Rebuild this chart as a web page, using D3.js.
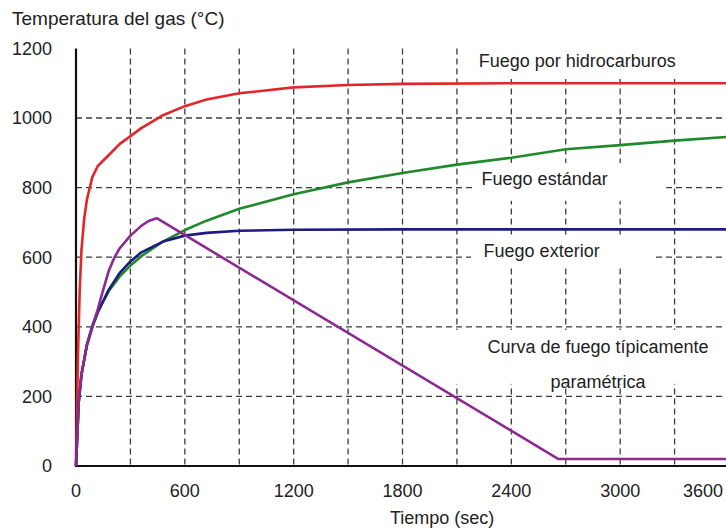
<!DOCTYPE html>
<html>
<head>
<meta charset="utf-8">
<script src="https://cdn.jsdelivr.net/npm/d3@7"></script>
<style>
  body { margin: 0; background: #fff; }
  svg text { font-family: "Liberation Sans", Arial, Helvetica, sans-serif; fill: #222; }
</style>
</head>
<body>
<svg id="chart" width="726" height="529"></svg>
<script>
// Time (s) and gas temperature (°C) for each fire curve
const timeHydro = [0, 10, 20, 30, 45, 60, 90, 120, 180, 240, 300, 360, 480, 600, 720, 900, 1200, 1500, 1800, 2400, 3000, 3600];
const tempHydro = [0, 300, 500, 620, 710, 765, 830, 862, 893, 925, 948, 971, 1008, 1034, 1053, 1071, 1088, 1095, 1098, 1100, 1100, 1100];

const timeStandard = [0, 15, 30, 60, 90, 120, 180, 240, 300, 360, 480, 600, 720, 900, 1200, 1500, 1800, 2100, 2400, 2700, 3000, 3300, 3600];
const tempStandard = [0, 185, 261, 349, 404, 445, 502, 544, 576, 603, 645, 678, 705, 739, 781, 815, 842, 866, 886, 910, 922, 935, 946];

const timeExternal = [0, 15, 30, 60, 90, 120, 180, 240, 300, 360, 480, 600, 720, 900, 1200, 1800, 2400, 3000, 3600];
const tempExternal = [0, 182, 263, 346, 399, 441, 506, 554, 588, 614, 645, 662, 670, 676, 679, 680, 680, 680, 680];

const timeParametric = [0, 15, 30, 60, 90, 120, 140, 180, 210, 240, 300, 360, 400, 445, 2660, 3600];
const tempParametric = [0, 185, 262, 348, 400, 450, 488, 560, 597, 625, 662, 690, 704, 712, 20, 20];

const xTickValues = [0, 600, 1200, 1800, 2400, 3000, 3600];
const yTickValues = [0, 200, 400, 600, 800, 1000, 1200];
const xGridValues = [300, 600, 900, 1200, 1500, 1800, 2100, 2400, 2700, 3000, 3300, 3600];
const yGridValues = [200, 400, 600, 800, 1000];

const curveNames = ["Fuego por hidrocarburos", "Fuego estándar", "Fuego exterior", "Curva de fuego típicamente", "paramétrica"];

const W = 726, H = 529;
const svg = d3.select("#chart");

const x = d3.scaleLinear().domain([0, 3600]).range([76, 729]);
const y = d3.scaleLinear().domain([0, 1200]).range([466, 48.4]);

// dashed grid
const grid = svg.append("g").attr("stroke", "#3c3c3c").attr("stroke-width", 1.3)
  .attr("stroke-dasharray", "6,4").attr("fill", "none");
grid.selectAll("line.v").data(xGridValues).join("line").attr("class", "v")
  .attr("x1", d => x(d)).attr("x2", d => x(d))
  .attr("y1", y(1200)).attr("y2", y(0));
grid.selectAll("line.h").data(yGridValues).join("line").attr("class", "h")
  .attr("x1", x(0)).attr("x2", W)
  .attr("y1", d => y(d)).attr("y2", d => y(d));

// curve annotations sit on white panels that interrupt the grid
const notes = [
  { text: curveNames[0], t: 2220, v: 1146, anchor: "start", box: [2162, 3600, 1112, 1213] },
  { text: curveNames[1], t: 2236, v: 807,  anchor: "start", box: [2184, 3254, 762, 871] },
  { text: curveNames[2], t: 2247, v: 600,  anchor: "start", box: [2178, 3176, 569, 661] },
  { text: curveNames[3], t: 2878, v: 325,  anchor: "middle", box: [2062, 3600, 236, 391] },
  { text: curveNames[4], t: 2878, v: 224,  anchor: "middle", box: null }
];
const noteG = svg.append("g");
notes.filter(n => n.box).forEach(n => {
  noteG.append("rect")
    .attr("x", x(n.box[0])).attr("width", x(n.box[1]) - x(n.box[0]))
    .attr("y", y(n.box[3])).attr("height", y(n.box[2]) - y(n.box[3]))
    .attr("fill", "#fff");
});
noteG.selectAll("text").data(notes).join("text")
  .attr("x", d => x(d.t)).attr("y", d => y(d.v))
  .attr("text-anchor", d => d.anchor)
  .attr("font-size", 18)
  .text(d => d.text);

// axes lines
svg.append("line").attr("x1", x(0)).attr("x2", x(0)).attr("y1", y(1200)).attr("y2", y(0))
  .attr("stroke", "#111").attr("stroke-width", 2.2);
svg.append("line").attr("x1", x(0) - 1).attr("x2", W).attr("y1", y(0)).attr("y2", y(0))
  .attr("stroke", "#111").attr("stroke-width", 2.2);

// data curves
const series = [
  { t: timeHydro, v: tempHydro, color: "#e3262b" },
  { t: timeStandard, v: tempStandard, color: "#1f8a2b" },
  { t: timeExternal, v: tempExternal, color: "#1b1c7e" },
  { t: timeParametric, v: tempParametric, color: "#8b2a8f" }
];
const line = d3.line().x(d => x(d[0])).y(d => y(d[1]));
svg.append("g").selectAll("path").data(series).join("path")
  .attr("d", s => line(d3.zip(s.t, s.v)))
  .attr("fill", "none")
  .attr("stroke", s => s.color)
  .attr("stroke-width", 2.6)
  .attr("stroke-linejoin", "round");

// y tick labels
svg.append("g").selectAll("text").data(yTickValues).join("text")
  .attr("x", 52).attr("y", d => y(d)).attr("dy", "0.35em")
  .attr("text-anchor", "end").attr("font-size", 18)
  .text(d => d);

// x tick labels (kept inside the frame at the right edge)
svg.append("g").selectAll("text").data(xTickValues).join("text")
  .attr("x", d => Math.min(x(d), W - 23)).attr("y", 497)
  .attr("text-anchor", "middle").attr("font-size", 18)
  .text(d => d);

// axis titles
svg.append("text").attr("x", 12).attr("y", 25).attr("font-size", 19)
  .text("Temperatura del gas (°C)");
svg.append("text").attr("x", 390).attr("y", 524).attr("font-size", 18)
  .text("Tiempo (sec)");
</script>
</body>
</html>
